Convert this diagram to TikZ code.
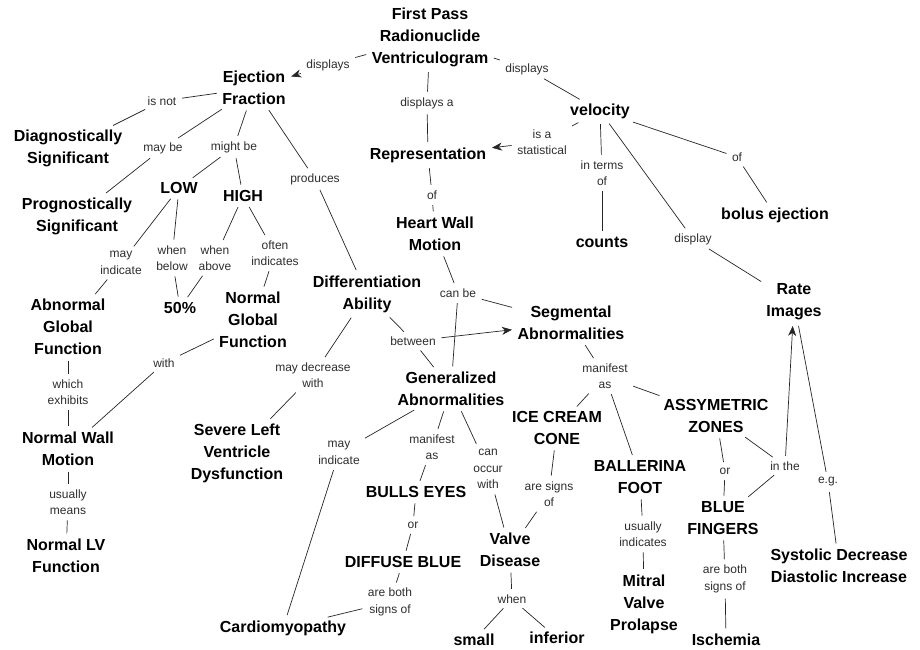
\documentclass[tikz,border=0pt]{standalone}
\usepackage{fontspec}
\setmainfont{Liberation Sans}
\usetikzlibrary{arrows.meta}
\begin{document}
\begin{tikzpicture}[x=1pt,y=-1pt,
  concept/.style={font=\bfseries\fontsize{16}{22}\selectfont, align=center, inner sep=2.5pt, text=black},
  lbl/.style={font=\fontsize{12}{16.5}\selectfont, align=center, inner sep=2.5pt, text=black!82},
  link/.style={draw=black!85, line width=0.7pt, shorten <=3pt, shorten >=3pt},
  arr/.style={link, -{Stealth[length=10pt,width=8pt,inset=3pt]}},
]
\useasboundingbox[fill=white] (0,0) rectangle (920,649);

% concepts
\node[concept] (fprv)   at (430,37)  {First Pass\\Radionuclide\\Ventriculogram};
\node[concept] (ef)     at (254,88)  {Ejection\\Fraction};
\node[concept] (diag)   at (68,148)  {Diagnostically\\Significant};
\node[concept] (prog)   at (77,216)  {Prognostically\\Significant};
\node[concept] (low)    at (179,188) {LOW};
\node[concept] (high)   at (243,196) {HIGH};
\node[concept] (agf)    at (68,327)  {Abnormal\\Global\\Function};
\node[concept] (fifty)  at (180,308) {50\%};
\node[concept] (ngf)    at (253,320) {Normal\\Global\\Function};
\node[concept] (diff)   at (367,294) {Differentiation\\Ability};
\node[concept] (nwm)    at (68,449)  {Normal Wall\\Motion};
\node[concept] (nlv)    at (66,556)  {Normal LV\\Function};
\node[concept] (sev)    at (237,453) {Severe Left\\Ventricle\\Dysfunction};
\node[concept] (cardio) at (283,628) {Cardiomyopathy};
\node[concept] (rep)    at (428,155) {Representation};
\node[concept] (hwm)    at (435,234) {Heart Wall\\Motion};
\node[concept] (vel)    at (600,111) {velocity};
\node[concept] (counts) at (602,242) {counts};
\node[concept] (bolus)  at (775,215) {bolus ejection};
\node[concept] (rate)   at (794,302) {Rate\\Images};
\node[concept] (seg)    at (571,323) {Segmental\\Abnormalities};
\node[concept] (gen)    at (451,389) {Generalized\\Abnormalities};
\node[concept] (ice)    at (557,428) {ICE CREAM\\CONE};
\node[concept] (assym)  at (716,416) {ASSYMETRIC\\ZONES};
\node[concept] (bulls)  at (416,492) {BULLS EYES};
\node[concept] (diffuse) at (403,562) {DIFFUSE BLUE};
\node[concept] (valve)  at (510,550) {Valve\\Disease};
\node[concept] (ball)   at (640,477) {BALLERINA\\FOOT};
\node[concept] (bluef)  at (723,518) {BLUE\\FINGERS};
\node[concept] (mitral) at (644,604) {Mitral\\Valve\\Prolapse};
\node[concept] (isch)   at (726,640) {Ischemia};
\node[concept] (small)  at (474,640) {small};
\node[concept] (inf)    at (557,638) {inferior};
\node[concept] (sys)    at (839,566) {Systolic Decrease\\Diastolic Increase};

% linking phrases
\node[lbl] (l1)  at (328,65)  {displays};
\node[lbl] (l2)  at (527,69)  {displays};
\node[lbl] (l3)  at (427,103) {displays a};
\node[lbl] (l4)  at (432,195) {of};
\node[lbl] (l5)  at (162,101) {is not};
\node[lbl] (l6)  at (163,148) {may be};
\node[lbl] (l7)  at (234,147) {might be};
\node[lbl] (l8)  at (315,179) {produces};
\node[lbl] (l9)  at (121,263) {may\\indicate};
\node[lbl] (l10) at (172,258) {when\\below};
\node[lbl] (l11) at (215,258) {when\\above};
\node[lbl] (l12) at (275,253) {often\\indicates};
\node[lbl] (l13) at (164,363) {with};
\node[lbl] (l14) at (68,392)  {which\\exhibits};
\node[lbl] (l15) at (68,502)  {usually\\means};
\node[lbl] (l16) at (313,375) {may decrease\\with};
\node[lbl] (l17) at (413,341) {between};
\node[lbl] (l18) at (458,293) {can be};
\node[lbl] (l19) at (542,142) {is a\\statistical};
\node[lbl] (l20) at (602,173) {in terms\\of};
\node[lbl] (l21) at (737,157) {of};
\node[lbl] (l22) at (693,239) {display};
\node[lbl] (l23) at (605,376) {manifest\\as};
\node[lbl] (l24) at (339,453) {may\\indicate};
\node[lbl] (l25) at (432,447) {manifest\\as};
\node[lbl] (l26) at (488,469) {can\\occur\\with};
\node[lbl] (l27) at (549,494) {are signs\\of};
\node[lbl] (l28) at (413,525) {or};
\node[lbl] (l29) at (390,602) {are both\\signs of};
\node[lbl] (l30) at (512,599) {when};
\node[lbl] (l31) at (643,534) {usually\\indicates};
\node[lbl] (l32) at (725,471) {or};
\node[lbl] (l33) at (785,466) {in the};
\node[lbl] (l34) at (828,482) {e.g.};
\node[lbl] (l35) at (725,579) {are both\\signs of};

% connections
\draw[link] (fprv) -- (l1);  \draw[arr] (l1) -- (ef);
\draw[link] (fprv) -- (l2);  \draw[link] (l2) -- (vel);
\draw[link] (fprv) -- (l3);  \draw[link] (l3) -- (rep);
\draw[link] (rep) -- (l4);   \draw[link] (l4) -- (hwm);
\draw[link] (ef) -- (l5);    \draw[link] (l5) -- (diag);
\draw[link] (ef) -- (l6);    \draw[link] (l6) -- (prog);
\draw[link] (ef) -- (l7);    \draw[link] (l7) -- (low);  \draw[link] (l7) -- (high);
\draw[link] (ef) -- (l8);    \draw[link] (l8) -- (diff);
\draw[link] (low) -- (l9);   \draw[link] (l9) -- (agf);
\draw[link] (low) -- (l10);  \draw[link] (l10) -- (fifty);
\draw[link] (high) -- (l11); \draw[link] (l11) -- (fifty);
\draw[link] (high) -- (l12); \draw[link] (l12) -- (ngf);
\draw[link] (ngf) -- (l13);  \draw[link] (l13) -- (nwm);
\draw[link] (agf) -- (l14);  \draw[link] (l14) -- (nwm);
\draw[link] (nwm) -- (l15);  \draw[link] (l15) -- (nlv);
\draw[link] (diff) -- (l16); \draw[link] (l16) -- (sev);
\draw[link] (diff) -- (l17); \draw[arr] (l17) -- (seg);  \draw[link] (l17) -- (gen);
\draw[link] (hwm) -- (l18);  \draw[link] (l18) -- (seg); \draw[link] (l18) -- (gen);
\draw[link] (vel) -- (l19);  \draw[arr] (l19) -- (rep);
\draw[link] (vel) -- (l20);  \draw[link] (l20) -- (counts);
\draw[link] (vel) -- (l21);  \draw[link] (l21) -- (bolus);
\draw[link] (vel) -- (l22);  \draw[link] (l22) -- (rate);
\draw[link] (seg) -- (l23);  \draw[link] (l23) -- (ice); \draw[link] (l23) -- (ball); \draw[link] (l23) -- (assym);
\draw[link] (gen) -- (l24);  \draw[link] (l24) -- (cardio);
\draw[link] (gen) -- (l25);  \draw[link] (l25) -- (bulls);
\draw[link] (gen) -- (l26);  \draw[link] (l26) -- (valve);
\draw[link] (ice) -- (l27);  \draw[link] (l27) -- (valve);
\draw[link] (bulls) -- (l28); \draw[link] (l28) -- (diffuse);
\draw[link] (diffuse) -- (l29); \draw[link] (l29) -- (cardio);
\draw[link] (valve) -- (l30); \draw[link] (l30) -- (small); \draw[link] (l30) -- (inf);
\draw[link] (ball) -- (l31);  \draw[link] (l31) -- (mitral);
\draw[link] (assym) -- (l32); \draw[link] (l32) -- (bluef);
\draw[link] (assym) -- (l33); \draw[link] (bluef) -- (l33); \draw[arr] (l33) -- (rate);
\draw[link] (rate) -- (l34);  \draw[link] (l34) -- (sys);
\draw[link] (bluef) -- (l35); \draw[link] (l35) -- (isch);
\end{tikzpicture}
\end{document}
